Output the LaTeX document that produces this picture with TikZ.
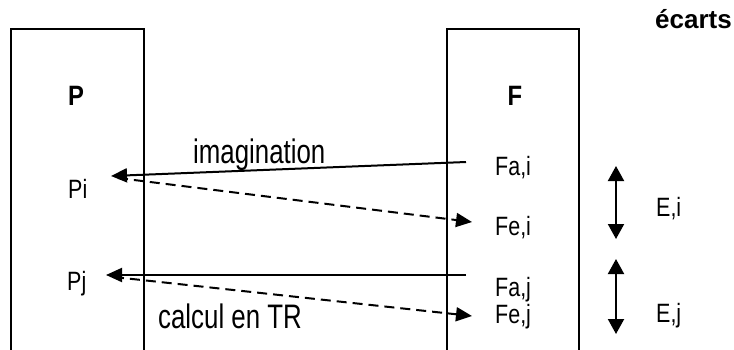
\documentclass[tikz,border=0pt]{standalone}
\usepackage{fontspec}
\setmainfont{Liberation Sans}
\newfontfamily\narA[FakeStretch=0.76]{Liberation Sans}
\newfontfamily\narB[FakeStretch=0.81]{Liberation Sans}
\newfontfamily\narC[FakeStretch=0.85]{Liberation Sans}
\usetikzlibrary{arrows.meta}
\begin{document}
\begin{tikzpicture}[x=1pt,y=-1pt,
  lbl/.style={inner sep=0pt,anchor=base west,font=\narB\fontsize{26.5}{28}\selectfont},
  big/.style={inner sep=0pt,anchor=base west,font=\narA\fontsize{34}{36}\selectfont},
  bigb/.style={inner sep=0pt,anchor=base,font=\narC\bfseries\fontsize{28}{30}\selectfont},
  title/.style={inner sep=0pt,anchor=base east,font=\bfseries\fontsize{26}{28}\selectfont},
  boxline/.style={line width=1.3pt},
  conn/.style={line width=2pt,-{Triangle[length=16pt,width=14pt]}},
  dconn/.style={conn,dash pattern=on 10pt off 6pt},
  gap/.style={line width=2pt,{Triangle[length=15pt,width=16pt]}-{Triangle[length=15pt,width=16pt]}}]
\useasboundingbox (0,0) rectangle (734,349);
% boxes
\draw[boxline] (11,352) -- (11,29) -- (144,29) -- (144,352);
\draw[boxline] (447,352) -- (447,29) -- (579,29) -- (579,352);
% labels
\node[bigb] (P) at (76,105) {P};
\node[bigb] (F) at (515,105) {F};
\node[title] (ecarts) at (732,28) {écarts};
\node[lbl] (Pi) at (68,198) {Pi};
\node[lbl] (Pj) at (67,290) {Pj};
\node[lbl] (Fai) at (495,175) {Fa,i};
\node[lbl] (Fei) at (495,235) {Fe,i};
\node[lbl] (Faj) at (495,296) {Fa,j};
\node[lbl] (Fej) at (495,323) {Fe,j};
\node[lbl] (Ei) at (656,216) {E,i};
\node[lbl] (Ej) at (656,322) {E,j};
\node[big] (imag) at (193,163) {imagination};
\node[big] (calc) at (158,328) {calcul en TR};
% connector end points
\coordinate (fai-out) at (466,162);
\coordinate (pi-in) at (111,176);
\coordinate (pi-out) at (118,178);
\coordinate (fei-in) at (472,222);
\coordinate (faj-out) at (466,275);
\coordinate (pj-in) at (106,275);
\coordinate (pj-out) at (114,277);
\coordinate (fej-in) at (472,316);
\coordinate (ei-top) at (616,166);
\coordinate (ei-bot) at (616,239);
\coordinate (ej-top) at (616,259);
\coordinate (ej-bot) at (616,334);
% connectors
\draw[conn] (fai-out) -- (pi-in);
\draw[dconn] (pi-out) -- (fei-in);
\draw[conn] (faj-out) -- (pj-in);
\draw[dconn] (pj-out) -- (fej-in);
\draw[gap] (ei-top) -- (ei-bot);
\draw[gap] (ej-top) -- (ej-bot);
\end{tikzpicture}
\end{document}
